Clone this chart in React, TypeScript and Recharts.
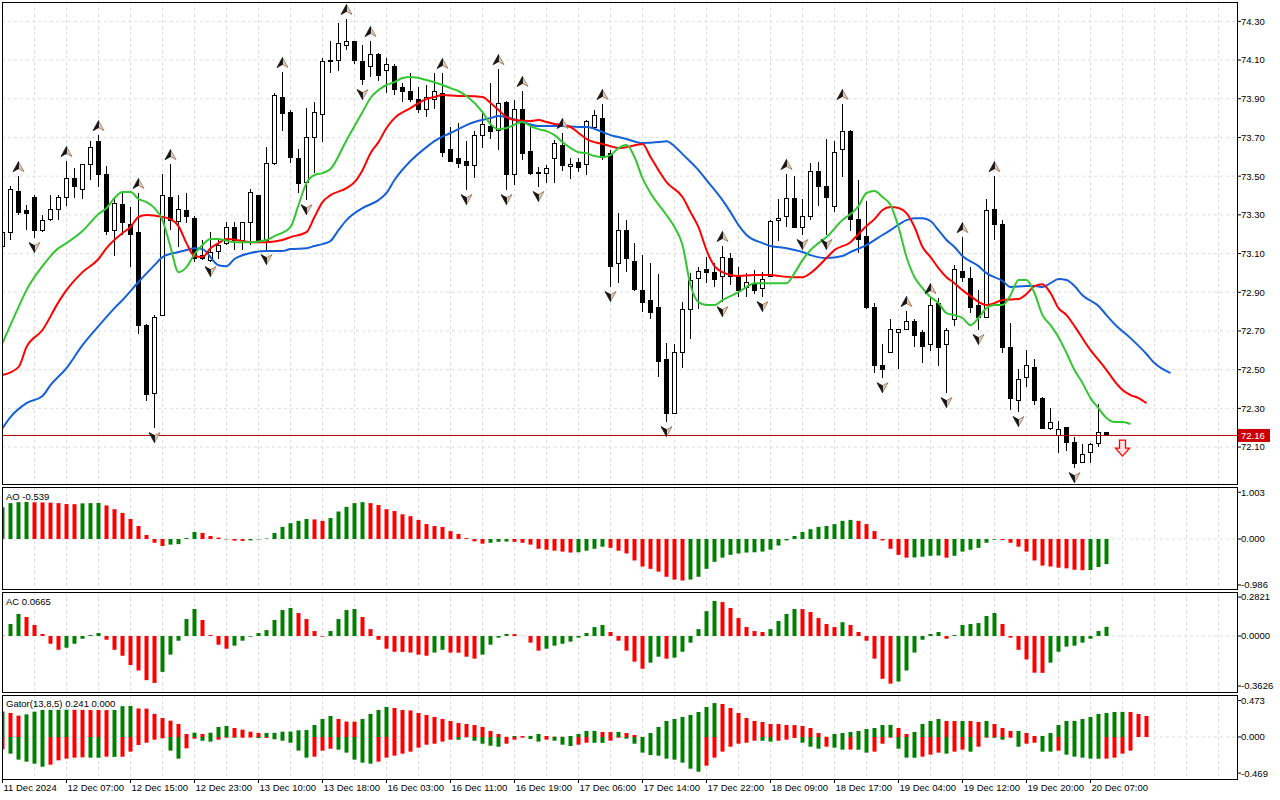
import React from 'react'
import {
  ComposedChart,
  Bar,
  Line,
  Scatter,
  XAxis,
  YAxis,
  CartesianGrid,
  ReferenceLine,
  Cell
} from 'recharts'

// Hourly candles, 11 Dec 23:00 .. 20 Dec
const OPEN = [
  73.139, 73.211, 73.423, 73.32, 73.392, 73.221, 73.278, 73.33, 73.392, 73.49,
  73.433, 73.562, 73.681, 73.511, 73.221, 73.351, 73.252, 73.211, 72.73, 72.379,
  72.782, 73.392, 73.268, 73.32, 73.283, 73.092, 73.066, 73.113, 73.154, 73.237,
  73.165, 73.263, 73.402, 73.17, 73.568, 73.909, 73.831, 73.593, 73.469, 73.702,
  73.821, 74.1, 74.1, 74.177, 74.198, 74.09, 74.069, 74.131, 74.048, 74.069,
  73.96, 73.94, 73.898, 73.847, 73.898, 73.929, 73.64, 73.593, 73.578, 73.557,
  73.712, 73.759, 73.738, 73.883, 73.506, 73.842, 73.63, 73.518, 73.516, 73.593,
  73.661, 73.552, 73.573, 73.562, 73.749, 73.8, 73.619, 73.051, 73.221, 73.061,
  72.911, 72.86, 72.823, 72.555, 72.276, 72.591, 72.813, 72.973, 73.02, 73.004,
  72.984, 73.072, 72.984, 72.927, 72.947, 72.922, 72.984, 73.273, 73.289, 73.382,
  73.237, 73.294, 73.526, 73.444, 73.345, 73.64, 73.733, 73.278, 73.19, 72.823,
  72.524, 72.591, 72.694, 72.705, 72.751, 72.694, 72.632, 72.844, 72.632, 72.761,
  73.009, 72.973, 72.834, 72.772, 73.33, 73.252, 72.612, 72.343, 72.462, 72.513,
  72.353, 72.198, 72.162, 72.203, 72.126, 72.022, 72.074, 72.121, 72.177
]
const HIGH = [
  73.221, 73.449, 73.5, 73.351, 73.402, 73.299, 73.402, 73.402, 73.578, 73.542,
  73.565, 73.681, 73.712, 73.552, 73.382, 73.413, 73.34, 73.413, 72.735, 72.782,
  73.511, 73.562, 73.402, 73.413, 73.294, 73.17, 73.211, 73.17, 73.263, 73.263,
  73.263, 73.433, 73.405, 73.65, 73.929, 74.038, 73.842, 73.64, 73.852, 73.883,
  74.11, 74.198, 74.291, 74.312, 74.19, 74.177, 74.198, 74.135, 74.11, 74.079,
  73.981, 74.033, 73.96, 73.971, 74.033, 74.033, 73.754, 73.774, 73.681, 73.733,
  73.826, 73.981, 74.053, 73.886, 73.893, 73.94, 73.754, 73.547, 73.557, 73.686,
  73.723, 73.593, 73.593, 73.79, 73.842, 73.873, 73.635, 73.309, 73.273, 73.154,
  73.092, 73.051, 72.994, 72.637, 72.632, 72.849, 72.999, 73.03, 73.082, 73.051,
  73.139, 73.103, 73.03, 72.999, 73.014, 73.004, 73.273, 73.382, 73.511, 73.5,
  73.382, 73.568, 73.573, 73.692, 73.681, 73.873, 73.736, 73.48, 73.371, 72.844,
  72.632, 72.761, 72.712, 72.803, 72.761, 72.705, 72.87, 72.87, 72.715, 73.04,
  73.185, 73.03, 72.911, 73.382, 73.5, 73.273, 72.741, 72.503, 72.601, 72.555,
  72.358, 72.301, 72.234, 72.205, 72.152, 72.115, 72.121, 72.322, 72.178
]
const LOW = [
  73.128, 73.17, 73.299, 73.221, 73.18, 73.211, 73.268, 73.273, 73.345, 73.387,
  73.382, 73.48, 73.444, 73.196, 73.087, 73.196, 73.03, 72.684, 72.338, 72.198,
  72.775, 73.221, 73.134, 73.258, 73.056, 73.066, 73.056, 73.072, 73.144, 73.118,
  73.118, 73.144, 73.159, 73.118, 73.557, 73.733, 73.568, 73.413, 73.376, 73.516,
  73.676, 74.033, 74.043, 74.152, 74.079, 73.971, 74.012, 73.991, 73.929, 73.919,
  73.883, 73.883, 73.826, 73.805, 73.847, 73.599, 73.576, 73.542, 73.428, 73.49,
  73.645, 73.692, 73.635, 73.428, 73.454, 73.583, 73.506, 73.444, 73.464, 73.464,
  73.526, 73.485, 73.521, 73.506, 73.738, 73.583, 72.927, 72.947, 73.004, 72.906,
  72.798, 72.761, 72.462, 72.229, 72.27, 72.508, 72.658, 72.813, 72.947, 72.927,
  72.849, 72.937, 72.875, 72.875, 72.891, 72.875, 72.978, 73.165, 73.237, 73.232,
  73.196, 73.273, 73.345, 73.196, 73.314, 73.495, 73.216, 73.103, 72.813, 72.482,
  72.456, 72.588, 72.503, 72.703, 72.617, 72.534, 72.596, 72.519, 72.379, 72.725,
  72.953, 72.792, 72.705, 72.77, 73.17, 72.586, 72.291, 72.281, 72.41, 72.317,
  72.193, 72.188, 72.069, 72.079, 71.991, 72.02, 72.017, 72.1, 72.16
]
const CLOSE = [
  73.211, 73.433, 73.314, 73.309, 73.221, 73.273, 73.33, 73.392, 73.49, 73.444,
  73.562, 73.65, 73.511, 73.216, 73.361, 73.258, 73.196, 72.73, 72.374, 72.772,
  73.402, 73.273, 73.33, 73.289, 73.077, 73.072, 73.108, 73.144, 73.237, 73.17,
  73.258, 73.413, 73.17, 73.568, 73.919, 73.826, 73.599, 73.464, 73.702, 73.831,
  74.09, 74.098, 74.188, 74.198, 74.1, 74.002, 74.131, 74.022, 74.079, 73.95,
  73.94, 73.898, 73.847, 73.909, 73.94, 73.624, 73.578, 73.568, 73.557, 73.712,
  73.769, 73.733, 73.873, 73.506, 73.842, 73.619, 73.516, 73.514, 73.537, 73.671,
  73.557, 73.562, 73.547, 73.785, 73.811, 73.599, 73.035, 73.221, 73.072, 72.916,
  72.849, 72.798, 72.544, 72.276, 72.591, 72.813, 72.963, 73.009, 73.004, 72.968,
  73.082, 72.984, 72.911, 72.953, 72.911, 72.968, 73.268, 73.283, 73.387, 73.237,
  73.289, 73.526, 73.444, 73.392, 73.624, 73.733, 73.278, 73.175, 72.823, 72.524,
  72.503, 72.705, 72.71, 72.751, 72.674, 72.622, 72.834, 72.612, 72.7, 73.02,
  72.978, 72.823, 72.772, 73.32, 73.252, 72.617, 72.353, 72.451, 72.524, 72.343,
  72.198, 72.229, 72.193, 72.126, 72.017, 72.064, 72.115, 72.177, 72.162
]

const LAST_PRICE = 72.16

// Bill Williams fractals (bar indices)
const FRACTAL_UP = [2, 8, 12, 17, 21, 35, 43, 46, 55, 62, 65, 70, 75, 90, 98, 105, 113, 116, 120, 124]
const FRACTAL_DN = [4, 19, 26, 33, 38, 45, 58, 63, 67, 76, 83, 90, 95, 100, 103, 110, 118, 122, 127, 134]

// sell signal arrow after the last bar: [bar index, price]
const SIGNAL: [number, number] = [140, 72.136]

// Alligator lines, read as [bar index, price] (shifted forward 3 / 5 / 8 bars)
const LIPS: [number, number][] = [
  [0, 72.637], [2, 72.823], [3, 72.911], [5, 73.035], [7, 73.128], [8, 73.154], [10, 73.216], [12, 73.304],
  [13, 73.335], [14, 73.387], [15, 73.418], [16, 73.418], [17, 73.382], [18, 73.366], [19, 73.335], [20, 73.273],
  [21, 73.134], [22, 73.004], [23, 73.03], [24, 73.097], [25, 73.144], [26, 73.175], [27, 73.175], [29, 73.159],
  [31, 73.159], [33, 73.17], [34, 73.19], [36, 73.237], [37, 73.351], [38, 73.464], [39, 73.506], [40, 73.516],
  [41, 73.537], [43, 73.686], [45, 73.831], [46, 73.904], [47, 73.945], [48, 73.971], [49, 73.986], [50, 74.007],
  [51, 74.012], [53, 73.997], [55, 73.971], [56, 73.955], [57, 73.94], [58, 73.914], [60, 73.831], [61, 73.769],
  [62, 73.743], [63, 73.749], [65, 73.78], [66, 73.759], [67, 73.743], [68, 73.733], [69, 73.712], [70, 73.676],
  [72, 73.624], [73, 73.619], [74, 73.604], [75, 73.599], [76, 73.609], [77, 73.645], [78, 73.661], [79, 73.599],
  [80, 73.49], [81, 73.413], [83, 73.299], [84, 73.237], [85, 73.144], [86, 72.937], [87, 72.849], [88, 72.834],
  [89, 72.834], [90, 72.86], [92, 72.901], [93, 72.927], [94, 72.947], [96, 72.947], [98, 72.947], [99, 72.999],
  [100, 73.066], [101, 73.118], [102, 73.154], [103, 73.185], [105, 73.273], [106, 73.304], [107, 73.345],
  [108, 73.413], [109, 73.423], [110, 73.392], [111, 73.351], [112, 73.237], [113, 73.082], [114, 72.978],
  [115, 72.922], [116, 72.875], [117, 72.844], [118, 72.792], [119, 72.782], [120, 72.767], [121, 72.73],
  [122, 72.767], [123, 72.818], [124, 72.834], [125, 72.834], [126, 72.885], [127, 72.963], [128, 72.963],
  [129, 72.896], [130, 72.782], [131, 72.73], [132, 72.668], [133, 72.586], [134, 72.498], [135, 72.431],
  [136, 72.353], [137, 72.301], [138, 72.25], [139, 72.229], [140, 72.229], [141, 72.219]
]
const TEETH: [number, number][] = [
  [0, 72.472], [2, 72.513], [3, 72.617], [5, 72.705], [7, 72.849], [8, 72.911], [10, 73.004], [12, 73.072],
  [13, 73.128], [15, 73.206], [16, 73.237], [17, 73.289], [18, 73.299], [20, 73.289], [21, 73.278], [22, 73.242],
  [23, 73.154], [24, 73.087], [25, 73.082], [26, 73.128], [27, 73.154], [28, 73.175], [30, 73.165], [31, 73.159],
  [33, 73.159], [35, 73.17], [36, 73.185], [38, 73.211], [39, 73.289], [40, 73.366], [41, 73.402], [43, 73.438],
  [44, 73.469], [45, 73.531], [46, 73.619], [47, 73.676], [48, 73.749], [49, 73.8], [51, 73.852], [52, 73.878],
  [53, 73.898], [54, 73.909], [55, 73.919], [57, 73.914], [58, 73.914], [60, 73.909], [61, 73.878], [62, 73.842],
  [63, 73.805], [64, 73.79], [66, 73.785], [67, 73.79], [68, 73.78], [69, 73.769], [70, 73.764], [71, 73.754],
  [72, 73.723], [73, 73.692], [75, 73.666], [76, 73.655], [77, 73.645], [78, 73.65], [80, 73.666], [81, 73.599],
  [82, 73.531], [83, 73.469], [85, 73.392], [86, 73.314], [87, 73.237], [88, 73.118], [89, 73.035], [90, 73.004],
  [92, 72.984], [94, 72.989], [96, 72.989], [97, 72.984], [99, 72.978], [100, 72.978], [101, 72.999], [103, 73.077],
  [104, 73.118], [106, 73.159], [107, 73.201], [108, 73.242], [109, 73.278], [110, 73.325], [111, 73.34],
  [112, 73.335], [113, 73.309], [114, 73.237], [115, 73.134], [116, 73.082], [117, 73.025], [118, 72.978],
  [119, 72.947], [120, 72.911], [121, 72.88], [123, 72.834], [124, 72.844], [125, 72.86], [127, 72.865],
  [128, 72.891], [129, 72.932], [130, 72.942], [131, 72.896], [132, 72.818], [133, 72.782], [134, 72.725],
  [136, 72.601], [137, 72.55], [138, 72.498], [139, 72.441], [140, 72.395], [141, 72.369], [142, 72.353], [143, 72.327]
]
const JAW: [number, number][] = [
  [0, 72.198], [1, 72.255], [3, 72.327], [5, 72.364], [6, 72.42], [8, 72.508], [10, 72.627], [12, 72.725],
  [14, 72.818], [15, 72.86], [17, 72.953], [19, 73.04], [20, 73.082], [22, 73.108], [23, 73.118], [24, 73.128],
  [25, 73.123], [27, 73.04], [28, 73.035], [29, 73.072], [31, 73.103], [33, 73.113], [35, 73.113], [36, 73.123],
  [38, 73.128], [39, 73.139], [40, 73.149], [41, 73.165], [42, 73.221], [43, 73.273], [45, 73.335], [47, 73.376],
  [48, 73.413], [49, 73.48], [51, 73.578], [53, 73.65], [54, 73.681], [56, 73.723], [58, 73.764], [59, 73.78],
  [61, 73.8], [62, 73.811], [63, 73.805], [65, 73.78], [67, 73.759], [68, 73.759], [70, 73.759], [72, 73.754],
  [73, 73.754], [75, 73.728], [76, 73.712], [77, 73.702], [78, 73.692], [80, 73.671], [82, 73.676], [83, 73.681],
  [84, 73.655], [85, 73.614], [87, 73.531], [88, 73.48], [90, 73.376], [91, 73.314], [92, 73.247], [93, 73.196],
  [95, 73.154], [96, 73.139], [98, 73.128], [100, 73.108], [101, 73.092], [103, 73.077], [105, 73.087],
  [106, 73.108], [108, 73.144], [110, 73.196], [111, 73.221], [113, 73.273], [114, 73.283], [115, 73.283],
  [116, 73.268], [117, 73.221], [118, 73.17], [119, 73.134], [120, 73.087], [122, 73.035], [123, 72.999],
  [125, 72.958], [126, 72.927], [128, 72.932], [129, 72.932], [130, 72.927], [131, 72.947], [132, 72.968],
  [133, 72.963], [134, 72.932], [135, 72.885], [137, 72.829], [138, 72.782], [139, 72.736], [141, 72.663],
  [143, 72.581], [144, 72.534], [146, 72.482]
]

// Awesome Oscillator
const AO = [
  0.68, 0.77, 0.79, 0.795, 0.788, 0.785, 0.78, 0.77, 0.75, 0.748,
  0.765, 0.77, 0.775, 0.72, 0.64, 0.56, 0.43, 0.28, 0.086, -0.08,
  -0.15, -0.12, -0.11, 0.02, 0.15, 0.13, 0.065, 0.03, -0.01, -0.035,
  -0.04, -0.03, -0.01, 0.01, 0.13, 0.26, 0.34, 0.39, 0.43, 0.42,
  0.39, 0.45, 0.59, 0.69, 0.77, 0.79, 0.77, 0.73, 0.64, 0.6,
  0.53, 0.49, 0.41, 0.32, 0.28, 0.26, 0.17, 0.11, 0.02, -0.05,
  -0.1, -0.08, -0.06, -0.055, -0.06, -0.08, -0.12, -0.21, -0.23, -0.25,
  -0.27, -0.29, -0.285, -0.25, -0.21, -0.165, -0.19, -0.25, -0.31, -0.46,
  -0.59, -0.64, -0.7, -0.81, -0.87, -0.89, -0.87, -0.81, -0.64, -0.49,
  -0.4, -0.34, -0.31, -0.29, -0.285, -0.27, -0.23, -0.14, -0.03, 0.065,
  0.15, 0.21, 0.26, 0.28, 0.32, 0.39, 0.41, 0.39, 0.32, 0.17,
  -0.03, -0.21, -0.34, -0.4, -0.395, -0.38, -0.36, -0.355, -0.4, -0.36,
  -0.27, -0.23, -0.19, -0.08, -0.015, -0.02, -0.08, -0.165, -0.27, -0.46,
  -0.57, -0.59, -0.615, -0.63, -0.66, -0.67, -0.665, -0.6, -0.539
]

// Accelerator Oscillator
const AC = [
  0.003, 0.087, 0.16, 0.138, 0.08, 0.015, -0.056, -0.1, -0.085, -0.056,
  -0.02, 0.007, 0.022, -0.027, -0.1, -0.143, -0.21, -0.25, -0.32, -0.34,
  -0.26, -0.135, -0.034, 0.123, 0.196, 0.116, 0.007, -0.063, -0.092, -0.07,
  -0.034, -0.005, 0.022, 0.043, 0.116, 0.188, 0.203, 0.167, 0.123, 0.036,
  -0.005, 0.036, 0.123, 0.188, 0.196, 0.138, 0.05, -0.027, -0.092, -0.114,
  -0.115, -0.12, -0.135, -0.143, -0.12, -0.1, -0.12, -0.121, -0.15, -0.164,
  -0.135, -0.063, -0.012, 0.015, 0.014, 0.001, -0.048, -0.106, -0.092, -0.07,
  -0.056, -0.041, -0.012, 0.022, 0.065, 0.08, 0.029, -0.034, -0.106, -0.186,
  -0.237, -0.193, -0.15, -0.164, -0.157, -0.114, -0.048, 0.05, 0.18, 0.254,
  0.246, 0.203, 0.13, 0.065, 0.036, 0.029, 0.05, 0.109, 0.16, 0.196,
  0.195, 0.174, 0.13, 0.087, 0.065, 0.1, 0.08, 0.029, -0.034, -0.164,
  -0.31, -0.345, -0.33, -0.25, -0.12, -0.027, 0.015, 0.029, -0.02, 0.007,
  0.08, 0.087, 0.094, 0.145, 0.167, 0.087, -0.012, -0.1, -0.17, -0.266,
  -0.267, -0.193, -0.114, -0.077, -0.07, -0.048, -0.02, 0.036, 0.0665
]

// Gator oscillator: upper |jaw - teeth|, lower |teeth - lips| (drawn below zero)
const GATOR_UP = [
  0.329, 0.312, 0.277, 0.294, 0.329, 0.351, 0.352, 0.353, 0.354, 0.353,
  0.352, 0.351, 0.35, 0.349, 0.351, 0.4, 0.402, 0.37, 0.368, 0.3,
  0.247, 0.212, 0.169, 0.039, 0.056, 0.039, 0.056, 0.13, 0.143, 0.117,
  0.095, 0.069, 0.052, 0.053, 0.054, 0.069, 0.07, 0.087, 0.09, 0.156,
  0.234, 0.273, 0.234, 0.2, 0.199, 0.234, 0.3, 0.351, 0.39, 0.377,
  0.351, 0.345, 0.312, 0.286, 0.26, 0.234, 0.208, 0.182, 0.169, 0.156,
  0.13, 0.078, 0.039, 0.002, 0.013, 0.012, 0.014, 0.039, 0.013, 0.005,
  0.003, 0.013, 0.039, 0.078, 0.079, 0.065, 0.064, 0.066, 0.052, 0.026,
  0.002, 0.052, 0.13, 0.208, 0.234, 0.26, 0.286, 0.325, 0.39, 0.44,
  0.428, 0.377, 0.312, 0.247, 0.208, 0.195, 0.169, 0.168, 0.156, 0.155,
  0.143, 0.117, 0.052, 0.003, 0.039, 0.052, 0.065, 0.078, 0.104, 0.117,
  0.156, 0.157, 0.117, 0.039, 0.065, 0.169, 0.208, 0.234, 0.208, 0.207,
  0.208, 0.207, 0.195, 0.208, 0.169, 0.117, 0.078, 0.079, 0.052, 0.013,
  0.014, 0.052, 0.156, 0.208, 0.209, 0.234, 0.26, 0.299, 0.312, 0.325,
  0.326, 0.325, 0.299, 0.273
]
const GATOR_DN = [
  0.16, 0.216, 0.294, 0.32, 0.346, 0.385, 0.359, 0.303, 0.281, 0.268,
  0.264, 0.268, 0.269, 0.255, 0.258, 0.256, 0.19, 0.104, 0.074, 0.035,
  0.017, 0.177, 0.281, 0.147, 0.022, 0.048, 0.06, 0.035, 0.009, 0.01,
  0.009, 0.008, 0.013, 0.012, 0.03, 0.048, 0.074, 0.177, 0.268, 0.255,
  0.177, 0.152, 0.164, 0.203, 0.294, 0.333, 0.346, 0.32, 0.268, 0.242,
  0.216, 0.19, 0.139, 0.1, 0.087, 0.06, 0.035, 0.036, 0.004, 0.048,
  0.087, 0.113, 0.126, 0.087, 0.035, 0.009, 0.026, 0.06, 0.035, 0.048,
  0.1, 0.117, 0.1, 0.074, 0.075, 0.076, 0.048, 0.009, 0.022, 0.087,
  0.203, 0.234, 0.242, 0.281, 0.294, 0.333, 0.411, 0.45, 0.372, 0.268,
  0.19, 0.126, 0.087, 0.074, 0.048, 0.049, 0.06, 0.048, 0.035, 0.013,
  0.074, 0.126, 0.152, 0.126, 0.139, 0.164, 0.163, 0.165, 0.203, 0.19,
  0.087, 0.009, 0.152, 0.268, 0.269, 0.255, 0.229, 0.203, 0.216, 0.19,
  0.164, 0.19, 0.126, 0.009, 0.01, 0.035, 0.009, 0.126, 0.087, 0.074,
  0.19, 0.191, 0.177, 0.229, 0.255, 0.268, 0.281, 0.282, 0.281, 0.268,
  0.216, 0.177
]

const LABELS = [
  '11 Dec 2024', '12 Dec 07:00', '12 Dec 15:00', '12 Dec 23:00', '13 Dec 10:00', '13 Dec 18:00',
  '16 Dec 03:00', '16 Dec 11:00', '16 Dec 19:00', '17 Dec 06:00', '17 Dec 14:00', '17 Dec 22:00',
  '18 Dec 09:00', '18 Dec 17:00', '19 Dec 04:00', '19 Dec 12:00', '19 Dec 20:00', '20 Dec 07:00'
]

const PRICE_TICKS = [72.1, 72.3, 72.5, 72.7, 72.9, 73.1, 73.3, 73.5, 73.7, 73.9, 74.1, 74.3]
const AO_TICKS = [-0.986, 0, 1.003]
const AC_TICKS = [-0.3626, 0, 0.2821]
const GATOR_TICKS = [-0.469, 0, 0.473]

const FONT = '"Liberation Sans", Arial, sans-serif'
const GREEN = '#008000'
const RED = '#ff0000'
const GRID = '#dedede'

const W = 1280
const AXIS_W = 43
const X_DOMAIN = [-0.0625, 154.3125]
const XTICKS = LABELS.map((_, k) => k * 8)
const GRID_X = Array.from({ length: 39 }, (_, k) => k * 4)

const PANEL = {
  main: { top: 2, h: 483 },
  ao: { top: 487, h: 103 },
  ac: { top: 592, h: 101 },
  gator: { top: 695, h: 85 }
}

const MAIN_DOMAIN = [71.904, 74.4]
const AO_DOMAIN = [-1.094, 1.116]
const AC_DOMAIN = [-0.413, 0.319]
const GATOR_DOMAIN = [-0.558, 0.545]

// table for the price panel
const mainRows: any[] = Array.from({ length: 147 }, (_, i) => ({
  i,
  o: OPEN[i],
  h: HIGH[i],
  l: LOW[i],
  c: CLOSE[i]
}))
LIPS.forEach(([i, v]) => (mainRows[i].lips = v))
TEETH.forEach(([i, v]) => (mainRows[i].teeth = v))
JAW.forEach(([i, v]) => (mainRows[i].jaw = v))

const upFractals = FRACTAL_UP.map((i) => ({ i, v: HIGH[i] }))
const dnFractals = FRACTAL_DN.map((i) => ({ i, v: LOW[i] }))
const signalData = [{ i: SIGNAL[0], v: SIGNAL[1] }]

// histogram colour: green when rising, red when falling
function trendColors(vals: number[], first = GREEN) {
  let col = first
  return vals.map((v, k) => {
    if (k > 0) {
      if (v > vals[k - 1]) col = GREEN
      else if (v < vals[k - 1]) col = RED
    }
    return col
  })
}

const aoRows = AO.map((v, i) => ({ i, v }))
const acRows = AC.map((v, i) => ({ i, v }))
const aoColors = trendColors(AO)
const acColors = trendColors(AC)
const gatorRows = GATOR_UP.map((v, i) => ({
  i,
  up: v,
  dn: i < GATOR_DN.length ? -GATOR_DN[i] : undefined
}))
const upColors = trendColors(GATOR_UP)
const dnColors = trendColors(GATOR_DN, RED)

// grid generators (drawn behind the series, unlike reference lines)
const plotOf = (offset: any) => offset || { left: 2, width: 1235, top: 0, height: 100 }
const vGrid = ({ offset }: any) => {
  const o = plotOf(offset)
  return GRID_X.map((i) => o.left + ((i - X_DOMAIN[0]) / (X_DOMAIN[1] - X_DOMAIN[0])) * o.width)
}
const zeroGrid = (domain: number[]) => ({ offset }: any) => {
  const o = plotOf(offset)
  return [o.top + ((domain[1] - 0) / (domain[1] - domain[0])) * o.height]
}

function Candle(props: any) {
  const { x, y, width, height, payload } = props
  if (payload == null || payload.h == null) return null
  const { o, h, l, c } = payload
  const cx = Math.round(x + width / 2) + 0.5
  const py = (p: number) => (h === l ? y : y + ((h - p) / (h - l)) * height)
  const top = Math.min(py(o), py(c))
  const bot = Math.max(py(o), py(c))
  const bull = c >= o
  return (
    <g shapeRendering="crispEdges">
      <line x1={cx} x2={cx} y1={y} y2={y + height} stroke="#000" strokeWidth={1} />
      <rect
        x={cx - 2}
        y={top}
        width={4}
        height={Math.max(bot - top, 1)}
        fill={bull ? '#fff' : '#000'}
        stroke="#000"
        strokeWidth={1}
      />
    </g>
  )
}

function FractalUp({ cx, cy }: any) {
  return (
    <g transform={`translate(${cx},${cy - 9})`}>
      <path d="M0,-5.5 L5.5,4.5 L0,1.5 Z" fill="#cfcfcf" stroke="#a86a3a" strokeWidth={0.8} />
      <path d="M0,-5.5 L-5.5,4.5 L0,1.5 Z" fill="#141414" stroke="#141414" strokeWidth={0.8} />
    </g>
  )
}

function FractalDown({ cx, cy }: any) {
  return (
    <g transform={`translate(${cx},${cy + 9}) scale(1,-1)`}>
      <path d="M0,-5.5 L5.5,4.5 L0,1.5 Z" fill="#cfcfcf" stroke="#a86a3a" strokeWidth={0.8} />
      <path d="M0,-5.5 L-5.5,4.5 L0,1.5 Z" fill="#141414" stroke="#141414" strokeWidth={0.8} />
    </g>
  )
}

function SellArrow({ cx, cy }: any) {
  return (
    <path
      transform={`translate(${cx},${cy})`}
      d="M-3,0 L3,0 L3,8 L7,8 L0,16 L-7,8 L-3,8 Z"
      fill="#ffe6e6"
      stroke="#ff0000"
      strokeWidth={1.3}
    />
  )
}

function PriceTag({ viewBox }: any) {
  const { x, y, width } = viewBox
  return (
    <g>
      <rect x={x + width + 1} y={y - 6.5} width={32} height={13} fill="#cc0000" />
      <text x={x + width + 4} y={y} dy="0.355em" fontSize={9.5} fontFamily={FONT} fill="#fff">
        {LAST_PRICE.toFixed(2)}
      </text>
    </g>
  )
}

function XTick({ x, y, payload }: any) {
  return (
    <text x={x + 1} y={y} dy={5.5} fontSize={9.5} fontFamily={FONT} fill="#000">
      {LABELS[Math.round(payload.value / 8)]}
    </text>
  )
}

function Frame({ top, h }: { top: number; h: number }) {
  return (
    <div
      style={{
        position: 'absolute',
        left: 2,
        top,
        width: 1236,
        height: h,
        border: '1px solid #000',
        boxSizing: 'border-box',
        pointerEvents: 'none'
      }}
    />
  )
}

function PanelLabel({ top, text }: { top: number; text: string }) {
  return (
    <div
      style={{
        position: 'absolute',
        left: 6,
        top,
        fontSize: 9.5,
        lineHeight: '12px',
        fontFamily: FONT,
        color: '#000',
        whiteSpace: 'nowrap'
      }}
    >
      {text}
    </div>
  )
}

const xAxisProps: any = {
  dataKey: 'i',
  type: 'number',
  domain: X_DOMAIN,
  ticks: XTICKS,
  allowDataOverflow: true
}

function yAxisProps(domain: number[], ticks: number[], digits: number): any {
  return {
    orientation: 'right',
    width: AXIS_W,
    domain,
    ticks,
    interval: 0,
    allowDataOverflow: true,
    axisLine: false,
    tickLine: { stroke: '#000' },
    tickSize: 4,
    tickMargin: 0,
    tick: { fontSize: 9.5, fill: '#000', fontFamily: FONT },
    tickFormatter: (v: number) => v.toFixed(digits)
  }
}

const margin = { top: 0, right: 0, bottom: 0, left: 2 }

export default function App() {
  return (
    <div style={{ position: 'absolute', left: 0, top: 0, width: W, height: 800, background: '#fff' }}>
      {/* price panel */}
      <div style={{ position: 'absolute', left: 0, top: PANEL.main.top }}>
        <ComposedChart width={W} height={PANEL.main.h} data={mainRows} margin={margin}>
          <CartesianGrid stroke={GRID} strokeDasharray="3 3" verticalCoordinatesGenerator={vGrid} />
          <XAxis {...xAxisProps} hide />
          <YAxis {...yAxisProps(MAIN_DOMAIN, PRICE_TICKS, 2)} />
          <ReferenceLine y={LAST_PRICE} stroke="#b00000" strokeWidth={1} label={<PriceTag />} />
          <Bar
            dataKey={(d: any) => (d.h == null ? null : [d.l, d.h])}
            barSize={5}
            shape={(p: any) => <Candle {...p} />}
            isAnimationActive={false}
          />
          <Line dataKey="jaw" type="monotone" stroke="#1560d8" strokeWidth={2} dot={false} connectNulls isAnimationActive={false} />
          <Line dataKey="teeth" type="monotone" stroke="#ff0000" strokeWidth={2} dot={false} connectNulls isAnimationActive={false} />
          <Line dataKey="lips" type="monotone" stroke="#33c633" strokeWidth={2} dot={false} connectNulls isAnimationActive={false} />
          <Scatter data={upFractals} dataKey="v" shape={(p: any) => <FractalUp {...p} />} isAnimationActive={false} />
          <Scatter data={dnFractals} dataKey="v" shape={(p: any) => <FractalDown {...p} />} isAnimationActive={false} />
          <Scatter data={signalData} dataKey="v" shape={(p: any) => <SellArrow {...p} />} isAnimationActive={false} />
        </ComposedChart>
      </div>
      <Frame top={PANEL.main.top} h={PANEL.main.h} />

      {/* AO */}
      <div style={{ position: 'absolute', left: 0, top: PANEL.ao.top }}>
        <ComposedChart width={W} height={PANEL.ao.h} data={aoRows} margin={margin}>
          <CartesianGrid
            stroke={GRID}
            strokeDasharray="3 3"
            verticalCoordinatesGenerator={vGrid}
            horizontalCoordinatesGenerator={zeroGrid(AO_DOMAIN)}
          />
          <XAxis {...xAxisProps} hide />
          <YAxis {...yAxisProps(AO_DOMAIN, AO_TICKS, 3)} />
          <Bar dataKey="v" barSize={4} isAnimationActive={false}>
            {aoRows.map((_, k) => (
              <Cell key={k} fill={aoColors[k]} />
            ))}
          </Bar>
        </ComposedChart>
      </div>
      <Frame top={PANEL.ao.top} h={PANEL.ao.h} />
      <PanelLabel top={491} text={`AO ${AO[AO.length - 1].toFixed(3)}`} />

      {/* AC */}
      <div style={{ position: 'absolute', left: 0, top: PANEL.ac.top }}>
        <ComposedChart width={W} height={PANEL.ac.h} data={acRows} margin={margin}>
          <CartesianGrid
            stroke={GRID}
            strokeDasharray="3 3"
            verticalCoordinatesGenerator={vGrid}
            horizontalCoordinatesGenerator={zeroGrid(AC_DOMAIN)}
          />
          <XAxis {...xAxisProps} hide />
          <YAxis {...yAxisProps(AC_DOMAIN, AC_TICKS, 4)} />
          <Bar dataKey="v" barSize={4} isAnimationActive={false}>
            {acRows.map((_, k) => (
              <Cell key={k} fill={acColors[k]} />
            ))}
          </Bar>
        </ComposedChart>
      </div>
      <Frame top={PANEL.ac.top} h={PANEL.ac.h} />
      <PanelLabel top={596} text={`AC ${AC[AC.length - 1].toFixed(4)}`} />

      {/* Gator */}
      <div style={{ position: 'absolute', left: 0, top: PANEL.gator.top }}>
        <ComposedChart
          width={W}
          height={PANEL.gator.h + 21}
          data={gatorRows}
          margin={margin}
          stackOffset="sign"
        >
          <CartesianGrid
            stroke={GRID}
            strokeDasharray="3 3"
            verticalCoordinatesGenerator={vGrid}
            horizontalCoordinatesGenerator={zeroGrid(GATOR_DOMAIN)}
          />
          <XAxis
            {...xAxisProps}
            height={21}
            axisLine={false}
            tickLine={{ stroke: '#000' }}
            tickSize={3}
            tickMargin={2}
            interval={0}
            tick={<XTick />}
          />
          <YAxis {...yAxisProps(GATOR_DOMAIN, GATOR_TICKS, 3)} />
          <Bar dataKey="up" stackId="g" barSize={4} isAnimationActive={false}>
            {gatorRows.map((_, k) => (
              <Cell key={k} fill={upColors[k]} />
            ))}
          </Bar>
          <Bar dataKey="dn" stackId="g" barSize={4} isAnimationActive={false}>
            {gatorRows.map((_, k) => (
              <Cell key={k} fill={dnColors[k] || RED} />
            ))}
          </Bar>
        </ComposedChart>
      </div>
      <Frame top={PANEL.gator.top} h={PANEL.gator.h} />
      <PanelLabel top={698} text="Gator(13,8,5) 0.241 0.000" />
    </div>
  )
}
